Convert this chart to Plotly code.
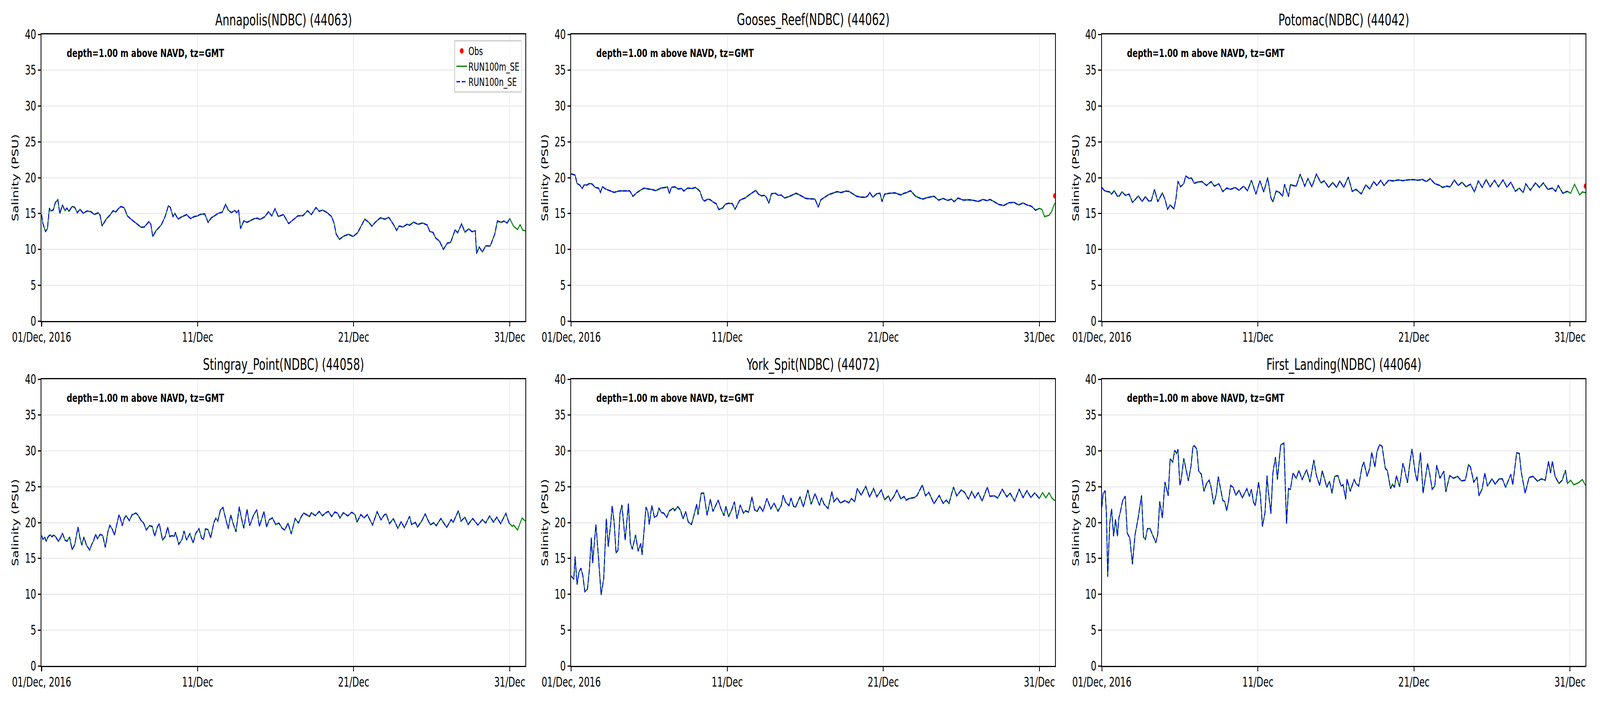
import pandas as pd
import plotly.graph_objects as go

# ---------------- data ----------------
start_time = pd.Timestamp("2016-12-01 00:00")
end_time = pd.Timestamp("2017-01-01 00:00")
tick_dates = ["2016-12-01", "2016-12-11", "2016-12-21", "2016-12-31"]
tick_labels = ["01/Dec, 2016", "11/Dec", "21/Dec", "31/Dec"]
y_ticks = [0, 5, 10, 15, 20, 25, 30, 35, 40]
depth_note = "depth=1.00 m above NAVD, tz=GMT"
run_n_last_hour = 720  # RUN100n_SE output stops on 31/Dec 00:00

station_titles = [
    "Annapolis(NDBC) (44063)",
    "Gooses_Reef(NDBC) (44062)",
    "Potomac(NDBC) (44042)",
    "Stingray_Point(NDBC) (44058)",
    "York_Spit(NDBC) (44072)",
    "First_Landing(NDBC) (44064)",
]

# hours since 2016-12-01 00:00 GMT, salinity (PSU)
annapolis_hours = [0, 2, 6, 9, 12, 14, 18, 21, 25, 28, 32, 36, 39, 42, 47, 51, 55, 59, 64, 70,
                   76, 81, 87, 90, 93, 100, 105, 110, 114, 118, 122, 127, 132, 138, 145, 153, 158, 165, 168, 171,
                   176, 184, 190, 195, 198, 202, 205, 210, 214, 223, 229, 235, 240, 244, 251, 256, 261, 266, 271, 278,
                   283, 287, 292, 297, 300, 303, 306, 311, 316, 323, 327, 332, 336, 343, 349, 354, 359, 364, 372, 380,
                   387, 394, 402, 409, 415, 422, 427, 432, 439, 446, 450, 453, 458, 465, 472, 479, 486, 491, 497, 503,
                   508, 513, 521, 528, 534, 541, 546, 550, 556, 562, 566, 572, 579, 586, 593, 597, 602, 606, 612, 618,
                   624, 629, 636, 640, 646, 651, 657, 662, 667, 669, 673, 678, 683, 690, 697, 701, 707, 711, 716, 720,
                   726, 732, 736, 740, 744]
annapolis_sal = [14.86, 13.6, 12.5, 12.9, 15.76, 15.36, 15.5, 16.5, 16.94, 15.0,
                 16.2, 15.4, 15.76, 15.3, 16.0, 15.85, 15.1, 15.6, 15.04, 15.36,
                 15.25, 14.86, 15.1, 14.76, 13.26, 14.3, 14.76, 15.4, 15.2, 15.67,
                 15.98, 15.8, 14.67, 14.17, 13.68, 13.08, 13.13, 13.86, 13.5, 11.78,
                 12.6, 13.4, 14.58, 16.09, 15.85, 14.58, 15.0, 14.22, 14.46, 14.86,
                 14.3, 14.58, 14.67, 14.89, 14.95, 13.77, 14.4, 14.67, 15.0, 15.2,
                 16.3, 15.49, 15.13, 15.43, 15.13, 15.5, 12.9, 13.98, 13.77, 14.08,
                 14.28, 14.35, 14.17, 14.53, 15.25, 14.67, 15.67, 14.58, 14.86, 13.6,
                 14.13, 14.67, 14.71, 15.4, 14.86, 15.85, 15.3, 15.49, 15.13, 14.58,
                 13.6, 12.14, 11.41, 11.87, 12.1, 11.8, 12.3, 13.2, 14.22, 13.8,
                 13.22, 13.77, 14.4, 14.22, 14.46, 13.5, 12.65, 13.26, 13.13, 13.5,
                 13.37, 13.8, 13.5, 13.68, 13.4, 12.5, 12.36, 11.6, 11.14, 10.0,
                 10.87, 10.96, 12.72, 12.32, 13.59, 12.4, 12.86, 12.46, 12.6, 9.42,
                 10.33, 9.64, 10.5, 10.47, 12.14, 13.95, 13.77, 13.95, 13.68, 14.28,
                 13.22, 12.77, 13.44, 12.68, 12.6]

gooses_hours = [0, 6, 9, 13, 17, 20, 24, 28, 32, 37, 42, 45, 48, 53, 59, 66, 74, 81, 90, 95,
                101, 107, 112, 119, 126, 130, 138, 145, 148, 151, 154, 159, 165, 170, 173, 179, 186, 191, 195, 198,
                202, 205, 210, 214, 219, 223, 227, 233, 237, 242, 248, 252, 259, 263, 268, 273, 280, 284, 288, 293,
                297, 300, 304, 308, 314, 319, 323, 328, 335, 341, 346, 354, 361, 368, 375, 380, 384, 390, 396, 402,
                409, 415, 422, 427, 432, 439, 446, 453, 456, 459, 464, 470, 475, 478, 482, 489, 498, 507, 512, 516,
                522, 529, 535, 541, 546, 551, 558, 565, 572, 579, 585, 589, 595, 603, 612, 619, 626, 633, 640, 644,
                650, 657, 665, 673, 681, 688, 695, 701, 708, 714, 720, 724, 728, 735, 739, 744]
gooses_sal = [20.54, 20.36, 19.18, 19.0, 18.5, 19.0, 18.97, 19.18, 19.13, 18.64,
              18.55, 17.95, 18.73, 18.42, 18.19, 17.95, 18.15, 18.17, 18.17, 17.41,
              17.92, 18.28, 18.55, 18.42, 18.32, 18.19, 18.55, 18.64, 18.73, 17.77,
              18.64, 18.73, 18.42, 18.5, 18.13, 18.55, 18.5, 18.64, 18.37, 18.1,
              17.01, 16.74, 17.01, 16.92, 16.56, 16.38, 15.56, 15.78, 16.29, 16.43,
              16.38, 15.6, 16.83, 17.01, 17.19, 17.55, 18.0, 18.24, 17.7, 17.46,
              17.55, 17.28, 16.43, 17.77, 17.83, 17.52, 17.59, 17.16, 17.37, 17.64,
              17.83, 17.46, 17.1, 17.05, 17.01, 15.89, 16.92, 17.28, 17.64, 17.83,
              18.06, 17.92, 18.13, 18.1, 17.83, 17.41, 17.28, 17.28, 17.46, 17.95,
              17.28, 17.77, 17.83, 16.65, 17.7, 17.83, 17.88, 17.59, 17.83, 17.92,
              18.19, 17.46, 17.19, 17.01, 17.19, 17.28, 17.41, 16.87, 17.1, 16.83,
              17.01, 16.65, 17.16, 16.87, 16.92, 16.83, 16.68, 16.97, 16.79, 16.97,
              16.68, 16.29, 16.11, 16.5, 16.56, 16.2, 16.47, 16.2, 16.01, 15.47,
              15.71, 15.56, 14.57, 14.75, 15.29, 16.5]

potomac_hours = [0, 4, 7, 12, 15, 19, 24, 27, 31, 36, 42, 47, 51, 56, 62, 67, 72, 76, 81, 86,
                 93, 97, 101, 105, 111, 114, 117, 121, 126, 129, 134, 138, 142, 148, 154, 161, 168, 173, 180, 186,
                 192, 198, 205, 211, 218, 224, 230, 237, 243, 249, 255, 260, 263, 268, 273, 278, 281, 287, 290, 294,
                 299, 305, 312, 317, 323, 330, 337, 342, 349, 355, 361, 366, 372, 379, 385, 391, 399, 406, 412, 418,
                 423, 429, 434, 441, 448, 456, 463, 470, 479, 486, 493, 499, 505, 512, 520, 524, 530, 536, 542, 548,
                 554, 560, 567, 573, 579, 585, 591, 597, 604, 610, 617, 623, 629, 636, 642, 648, 652, 659, 667, 673,
                 679, 686, 693, 698, 702, 709, 716, 721, 727, 735, 739, 744]
potomac_sal = [18.64, 18.19, 18.1, 18.01, 17.7, 18.19, 17.41, 17.46, 18.04, 17.55,
               17.7, 16.56, 16.92, 17.46, 16.68, 17.37, 16.74, 16.79, 18.37, 16.65,
               17.88, 17.01, 15.6, 16.2, 15.65, 17.1, 19.51, 18.73, 19.18, 20.24,
               19.91, 19.95, 19.22, 19.4, 19.46, 18.91, 19.46, 18.82, 19.15, 18.06,
               18.55, 18.37, 18.64, 18.24, 18.82, 18.19, 19.64, 17.7, 19.58, 18.01,
               20.0, 17.19, 16.61, 18.13, 17.95, 17.41, 19.09, 17.37, 19.04, 18.91,
               18.82, 20.49, 18.82, 19.87, 18.73, 20.49, 19.28, 19.55, 18.64, 19.33,
               18.64, 19.55, 18.64, 20.09, 18.1, 18.37, 17.74, 19.0, 18.42, 19.46,
               18.91, 19.64, 18.91, 19.64, 19.55, 19.69, 19.58, 19.69, 19.73, 19.64,
               19.76, 19.46, 19.87, 19.18, 18.91, 18.64, 18.82, 18.73, 19.69, 18.91,
               19.37, 18.73, 19.09, 18.01, 19.55, 18.64, 19.76, 18.73, 19.64, 18.73,
               19.69, 18.68, 19.37, 18.1, 18.55, 17.92, 19.15, 18.24, 19.28, 18.64,
               19.28, 18.37, 18.55, 18.1, 18.91, 17.83, 18.1, 17.83, 19.09, 17.59,
               18.01, 17.92]

stingray_hours = [0, 2, 5, 7, 10, 13, 16, 18, 21, 26, 29, 32, 36, 39, 43, 47, 51, 56, 59, 62,
                  65, 69, 74, 77, 80, 83, 86, 90, 94, 98, 102, 105, 109, 112, 115, 119, 121, 124, 127, 130,
                  135, 139, 145, 148, 153, 157, 161, 166, 170, 174, 178, 181, 186, 190, 194, 197, 200, 204, 206, 211,
                  216, 219, 223, 228, 233, 237, 242, 246, 249, 252, 256, 260, 265, 268, 271, 275, 279, 282, 287, 291,
                  294, 299, 304, 307, 311, 316, 320, 326, 331, 335, 342, 346, 350, 355, 360, 365, 370, 374, 379, 384,
                  390, 395, 399, 403, 408, 412, 415, 421, 427, 432, 436, 441, 446, 451, 455, 459, 464, 471, 477, 482,
                  485, 491, 496, 501, 509, 516, 522, 527, 530, 535, 541, 548, 553, 558, 566, 569, 575, 578, 584, 590,
                  594, 598, 603, 607, 614, 623, 630, 633, 641, 645, 651, 656, 663, 671, 678, 683, 689, 695, 700, 706,
                  714, 719, 724, 726, 732, 739, 744]
stingray_sal = [18.2, 17.65, 17.93, 17.38, 18.02, 18.29, 18.02, 18.24, 18.1, 17.38,
                17.84, 18.53, 17.56, 17.38, 17.98, 16.2, 16.93, 19.38, 17.84, 16.84,
                17.98, 16.84, 16.16, 16.93, 17.47, 18.35, 17.75, 18.35, 18.2, 16.53,
                18.75, 19.62, 19.02, 18.24, 19.47, 21.07, 20.65, 19.56, 20.56, 20.96,
                20.27, 21.07, 21.33, 21.07, 20.29, 19.93, 18.96, 19.56, 19.47, 18.1,
                19.38, 19.84, 17.56, 18.02, 19.38, 18.05, 18.16, 18.1, 18.65, 16.96,
                17.65, 18.84, 17.56, 18.47, 17.15, 18.47, 19.15, 17.84, 17.65, 19.11,
                19.02, 17.84, 20.02, 20.6, 20.2, 21.75, 22.11, 20.93, 19.15, 21.07,
                20.02, 18.71, 22.2, 20.75, 19.2, 21.84, 19.56, 21.02, 21.8, 19.47,
                21.56, 19.38, 20.38, 20.65, 19.73, 19.93, 19.2, 18.96, 19.93, 18.42,
                20.56, 19.93, 20.75, 21.33, 21.07, 20.84, 21.38, 20.96, 21.56, 20.93,
                21.29, 21.56, 20.84, 21.47, 21.33, 20.65, 21.38, 20.93, 21.44, 21.11,
                20.05, 21.11, 20.65, 21.11, 19.65, 21.51, 20.38, 21.07, 21.2, 19.84,
                20.53, 19.2, 20.11, 19.29, 20.89, 19.73, 20.02, 19.38, 20.11, 21.2,
                20.38, 19.69, 19.98, 19.56, 20.56, 19.33, 20.42, 20.02, 21.65, 20.2,
                20.75, 19.73, 20.56, 19.65, 20.42, 19.93, 20.93, 20.05, 20.75, 19.84,
                21.29, 19.93, 19.47, 19.65, 18.96, 20.65, 20.2]

york_hours = [0, 4, 6, 9, 12, 15, 18, 21, 25, 28, 31, 33, 38, 42, 46, 50, 54, 57, 61, 63,
              66, 69, 72, 75, 78, 83, 88, 91, 94, 99, 103, 107, 109, 113, 115, 118, 120, 124, 128, 132,
              135, 139, 142, 147, 151, 157, 159, 164, 168, 172, 176, 180, 185, 189, 193, 195, 200, 204, 209, 214,
              218, 226, 230, 235, 238, 242, 247, 251, 255, 260, 265, 268, 273, 278, 282, 286, 290, 295, 301, 307,
              312, 318, 323, 326, 330, 335, 338, 342, 345, 352, 357, 364, 369, 375, 382, 385, 389, 395, 401, 404,
              409, 414, 421, 427, 431, 436, 440, 446, 453, 459, 465, 470, 477, 482, 488, 491, 496, 501, 507, 512,
              515, 520, 528, 532, 540, 545, 550, 558, 566, 572, 577, 581, 588, 593, 600, 605, 611, 616, 621, 626,
              632, 640, 644, 651, 656, 663, 670, 675, 682, 689, 695, 701, 707, 713, 720, 725, 730, 735, 739, 744]
york_sal = [12.55, 12.09, 15.27, 11.36, 13.09, 13.64, 12.55, 10.36, 10.73, 13.45,
            17.91, 14.36, 19.73, 15.09, 9.91, 12.18, 20.55, 16.64, 20.09, 22.33,
            20.09, 15.73, 16.18, 21.27, 22.45, 17.55, 22.64, 17.18, 16.27, 18.27,
            16.0, 17.09, 15.49, 19.95, 22.15, 21.45, 19.73, 22.36, 20.73, 20.95,
            22.0, 21.36, 21.36, 20.73, 21.64, 22.0, 21.67, 22.22, 21.73, 20.51,
            21.55, 20.09, 19.73, 21.09, 22.58, 21.09, 24.09, 24.09, 21.0, 23.27,
            21.55, 23.13, 22.0, 20.95, 22.27, 20.82, 21.82, 22.91, 20.55, 22.45,
            21.31, 21.64, 21.45, 23.6, 21.78, 21.55, 22.27, 21.55, 23.36, 21.91,
            22.69, 21.6, 22.36, 23.82, 22.82, 22.36, 23.42, 22.27, 22.15, 23.6,
            22.18, 24.55, 22.55, 24.04, 22.4, 23.45, 22.55, 21.96, 24.33, 22.91,
            23.45, 22.73, 23.05, 22.76, 23.36, 22.91, 24.76, 23.82, 25.05, 23.55,
            24.76, 23.6, 24.55, 23.18, 23.73, 23.0, 23.6, 24.51, 23.31, 23.64,
            23.13, 23.36, 23.49, 23.78, 25.24, 23.73, 24.22, 22.64, 23.78, 22.69,
            23.13, 22.64, 24.95, 23.73, 24.55, 24.22, 23.27, 24.33, 23.45, 24.18,
            23.0, 24.95, 23.67, 23.73, 23.42, 24.64, 23.6, 24.09, 23.0, 24.64,
            23.49, 24.45, 23.49, 24.15, 23.36, 24.18, 23.45, 24.15, 23.45, 23.05]

first_landing_hours = [0, 2, 5, 7, 9, 12, 15, 18, 21, 24, 26, 29, 32, 36, 39, 43, 47, 51, 56, 61,
                       64, 67, 70, 74, 78, 83, 86, 89, 93, 97, 102, 105, 109, 112, 115, 117, 120, 122, 126, 129,
                       133, 137, 140, 142, 146, 149, 153, 157, 161, 165, 168, 172, 176, 179, 183, 186, 189, 192, 195, 198,
                       202, 206, 211, 216, 223, 227, 230, 233, 236, 241, 244, 247, 251, 254, 256, 260, 263, 267, 270, 275,
                       280, 284, 287, 290, 294, 299, 303, 308, 315, 320, 326, 330, 335, 339, 343, 346, 350, 354, 358, 363,
                       368, 371, 375, 377, 382, 388, 391, 395, 400, 403, 408, 412, 415, 420, 423, 427, 431, 436, 439, 444,
                       447, 450, 453, 458, 463, 465, 470, 474, 477, 482, 485, 490, 494, 501, 504, 508, 512, 515, 520, 526,
                       529, 535, 541, 547, 553, 559, 564, 567, 572, 577, 580, 585, 589, 593, 600, 605, 611, 616, 621, 629,
                       632, 638, 642, 645, 651, 657, 663, 670, 676, 682, 687, 690, 693, 697, 703, 708, 713, 716, 721, 726,
                       733, 739, 744]
first_landing_sal = [22.18, 24.09, 24.45, 21.27, 12.45, 19.82, 21.91, 18.09, 20.45, 18.09,
                     20.55, 21.73, 23.09, 23.67, 18.55, 17.82, 14.18, 18.27, 20.73, 23.78,
                     18.0, 17.64, 19.13, 19.18, 18.27, 17.18, 18.36, 22.95, 20.64, 25.67,
                     23.73, 28.91, 28.45, 30.09, 29.64, 30.22, 25.2, 26.0, 28.95, 27.64,
                     25.82, 27.82, 30.55, 30.73, 30.27, 27.18, 26.73, 24.36, 25.45, 25.91,
                     24.93, 22.55, 24.0, 26.4, 24.55, 23.09, 22.91, 21.64, 23.09, 25.18,
                     24.91, 23.82, 24.51, 23.45, 24.73, 23.64, 24.64, 22.91, 22.36, 25.67,
                     23.64, 19.45, 21.45, 26.55, 24.36, 21.24, 26.91, 29.13, 26.0, 30.82,
                     31.09, 19.82, 24.73, 24.64, 26.91, 26.18, 27.27, 26.0, 27.36, 25.64,
                     28.73, 26.55, 25.15, 27.24, 25.91, 24.91, 25.78, 24.09, 26.45, 26.55,
                     25.09, 25.27, 23.27, 26.09, 24.36, 26.0, 25.42, 25.09, 27.73, 28.45,
                     26.45, 27.6, 29.82, 27.73, 29.82, 30.87, 30.64, 27.55, 27.27, 24.73,
                     25.36, 24.91, 26.55, 25.0, 28.27, 27.64, 25.55, 28.55, 30.27, 26.91,
                     25.73, 29.78, 24.09, 28.27, 26.91, 24.64, 25.09, 28.0, 26.18, 27.18,
                     24.27, 26.55, 26.18, 26.45, 25.82, 25.91, 28.09, 27.73, 25.64, 26.36,
                     23.73, 24.73, 26.91, 25.09, 26.09, 25.36, 26.09, 26.09, 24.91, 26.73,
                     25.27, 29.73, 29.64, 27.09, 24.09, 26.27, 26.45, 25.78, 26.09, 25.91,
                     28.55, 26.91, 28.55, 26.45, 25.45, 25.91, 27.31, 25.45, 25.91, 25.27,
                     25.55, 26.0, 25.18]

# observations (only the last sample falls inside the plotted window)
obs_hours = [[], [744], [744], [], [], []]
obs_sal = [[], [17.46], [18.82], [], [], []]

model_hours = [annapolis_hours, gooses_hours, potomac_hours,
               stingray_hours, york_hours, first_landing_hours]
model_sal = [annapolis_sal, gooses_sal, potomac_sal,
             stingray_sal, york_sal, first_landing_sal]

for h, s in zip(model_hours, model_sal):
    assert len(h) == len(s), (len(h), len(s))

# ---------------- figure ----------------
W, H = 6000, 1800
col_px = [(156, 1970), (2142, 3956), (4132, 5946)]
row_px = [(88, 822), (971, 1705)]
FONT = "DejaVu Sans"
AXIS_W = 2.6


def to_time(hours):
    return [start_time + pd.Timedelta(hours=float(h)) for h in hours]


fig = go.Figure()
annotations = []
layout_axes = {}

for i in range(6):
    r, c = divmod(i, 3)
    sfx = "" if i == 0 else str(i + 1)
    xref, yref = "x" + sfx, "y" + sfx
    hrs, sal = model_hours[i], model_sal[i]
    t = to_time(hrs)

    fig.add_trace(go.Scatter(
        x=t, y=sal, mode="lines", name="RUN100m_SE",
        line=dict(color="green", width=3.3),
        xaxis=xref, yaxis=yref, showlegend=(i == 0), legendrank=2,
        hoverinfo="skip"))
    n_idx = [k for k, h in enumerate(hrs) if h <= run_n_last_hour]
    fig.add_trace(go.Scatter(
        x=[t[k] for k in n_idx], y=[sal[k] for k in n_idx], mode="lines",
        name="RUN100n_SE",
        line=dict(color="blue", width=3.3, dash="14px,6px"),
        xaxis=xref, yaxis=yref, showlegend=(i == 0), legendrank=3,
        hoverinfo="skip"))
    if obs_hours[i]:
        fig.add_trace(go.Scatter(
            x=to_time(obs_hours[i]), y=obs_sal[i], mode="markers", name="Obs",
            marker=dict(color="red", size=14),
            xaxis=xref, yaxis=yref, showlegend=(i == 1), legendrank=1,
            cliponaxis=True, hoverinfo="skip"))

    x0, x1 = col_px[c]
    y0, y1 = row_px[r]
    common = dict(
        showline=True, linecolor="black", linewidth=AXIS_W, mirror=True,
        ticks="outside", ticklen=11, tickwidth=AXIS_W, tickcolor="black",
        showgrid=True, gridcolor="#ebebeb", gridwidth=2.6, zeroline=False,
        tickfont=dict(family=FONT, size=33, color="black"), automargin=False,
    )
    layout_axes["xaxis" + sfx] = dict(
        common, domain=[x0 / W, x1 / W], anchor=yref, type="date",
        range=[start_time, end_time], tickmode="array",
        tickvals=tick_dates, ticktext=tick_labels)
    layout_axes["yaxis" + sfx] = dict(
        common, domain=[1 - y1 / H, 1 - y0 / H], anchor=xref,
        range=[0, 40], tickmode="array", tickvals=y_ticks,
        title=dict(text="Salinity (PSU)", font=dict(family=FONT, size=33, color="black"),
                   standoff=14))

    annotations.append(dict(
        text=station_titles[i], xref="paper", yref="paper",
        x=(x0 + x1) / 2 / W, y=1 - (y0 - 12) / H, xanchor="center", yanchor="bottom",
        showarrow=False, font=dict(family=FONT, size=40, color="black")))
    annotations.append(dict(
        text="<b>" + depth_note + "</b>", xref="paper", yref="paper",
        x=(x0 + 92) / W, y=1 - (y0 + 48) / H, xanchor="left", yanchor="middle",
        showarrow=False, font=dict(family=FONT, size=29, color="black")))

fig.update_layout(
    width=W, height=H,
    margin=dict(l=0, r=0, t=0, b=0, pad=0),
    paper_bgcolor="white", plot_bgcolor="white",
    annotations=annotations,
    legend=dict(
        x=1956 / W, y=1 - 103 / H, xanchor="right", yanchor="top",
        bgcolor="rgba(255,255,255,0.8)", bordercolor="#cccccc", borderwidth=2.6,
        font=dict(family=FONT, size=28, color="black"), itemwidth=40,
        tracegroupgap=0),
    font=dict(family=FONT, color="black"),
    **layout_axes,
)

# map the 6000x1800 design onto the whole browser viewport
fit_script = """
document.documentElement.style.overflow = 'hidden';
document.body.style.margin = '0';
document.body.style.overflow = 'hidden';
document.body.style.background = 'white';
var gd = document.getElementById('{plot_id}');
var vw = document.documentElement.clientWidth || window.innerWidth;
var vh = document.documentElement.clientHeight || window.innerHeight;
var sx = vw / 6000, sy = vh / 1800;
var wrap = gd.parentElement;
wrap.style.width = vw + 'px';
wrap.style.height = vh + 'px';
wrap.style.overflow = 'hidden';
gd.style.transformOrigin = '0 0';
gd.style.transform = 'scale(' + sx + ',' + sy + ')';
"""

fig.write_html("out.html", post_script=fit_script,
               config={"displayModeBar": False, "responsive": False})
